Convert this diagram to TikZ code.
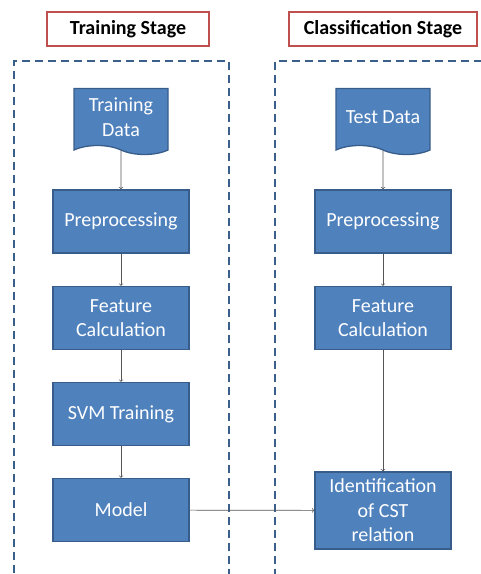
\documentclass[tikz,border=0pt]{standalone}
\usepackage{fontspec}
\setmainfont{Carlito}
\usetikzlibrary{shapes.symbols}
\definecolor{boxblue}{HTML}{4F81BD}
\definecolor{boxedge}{HTML}{385D8A}
\definecolor{titlered}{HTML}{C0504D}
\definecolor{stagedash}{HTML}{3A5F8A}
\definecolor{arrowgray}{HTML}{555555}

\begin{document}
\begin{tikzpicture}[x=1pt, y=-1pt,
    every node/.style={font=\fontsize{20}{24.5}\selectfont, align=center},
    stepbox/.style={rectangle, draw=boxedge, fill=boxblue, line width=1.3pt, text=white, minimum width=136pt, minimum height=63pt},
    databox/.style={tape, tape bend top=none, tape bend bottom=out and in, tape bend height=9pt, draw=boxedge, fill=boxblue, line width=1.3pt, text=white, minimum width=94pt, minimum height=66pt},
    stagetitle/.style={rectangle, draw=titlered, line width=1.5pt, fill=white, font=\fontsize{20}{24.5}\selectfont\bfseries, minimum height=34pt},
    flow/.style={->, draw=arrowgray, line width=0.7pt}]
    \useasboundingbox (0,0) rectangle (481,574);

    % stage frames
    \draw[stagedash, line width=2pt, dash pattern=on 8pt off 5pt] (229,590) -- (229,61) -- (14,61) -- (14,590);
    \draw[stagedash, line width=2pt, dash pattern=on 8pt off 5pt] (495,61) -- (275,61) -- (275,590);

    \node[stagetitle, minimum width=162pt] (trainstage) at (128,29) {Training Stage};
    \node[stagetitle, minimum width=188pt] (classstage) at (383,29) {Classification Stage};

    % training side
    \node[databox] (traindata) at (121,117) {Training\\Data};
    \node[stepbox] (trainprep) at (121,221.5) {Preprocessing};
    \node[stepbox] (trainfeat) at (121,318) {Feature\\Calculation};
    \node[stepbox] (svm) at (121,414) {SVM Training};
    \node[stepbox] (model) at (121,510) {Model};

    % classification side
    \node[databox] (testdata) at (383,117) {Test Data};
    \node[stepbox] (testprep) at (383,221.5) {Preprocessing};
    \node[stepbox] (testfeat) at (383,318) {Feature\\Calculation};
    \node[stepbox, minimum height=77pt] (ident) at (383,510.5) {Identification\\of CST\\relation};

    \draw[flow] (traindata) -- (trainprep);
    \draw[flow] (trainprep) -- (trainfeat);
    \draw[flow] (trainfeat) -- (svm);
    \draw[flow] (svm) -- (model);
    \draw[flow] (testdata) -- (testprep);
    \draw[flow] (testprep) -- (testfeat);
    \draw[flow] (testfeat) -- (ident);
    \draw[flow] (model) -- (ident);
\end{tikzpicture}
\end{document}
